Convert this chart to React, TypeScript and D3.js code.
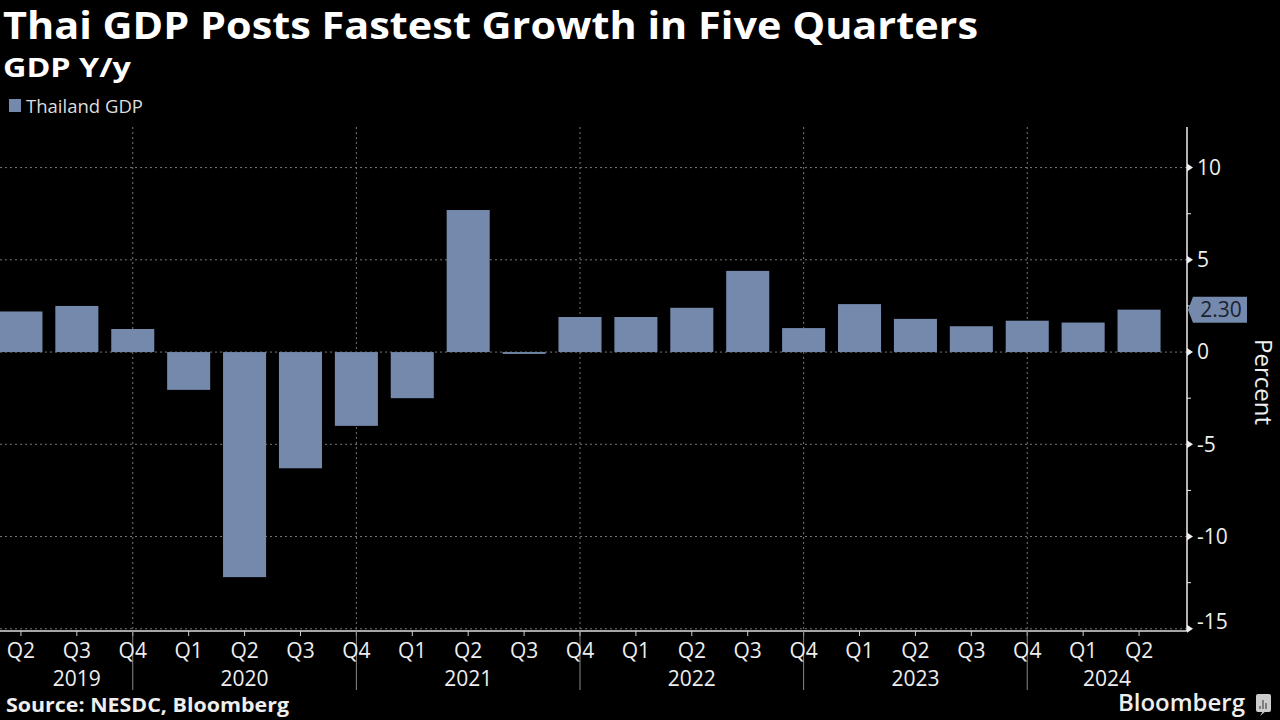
import React from "react";
import * as d3 from "d3";

const periods = [
  "2019Q2", "2019Q3", "2019Q4",
  "2020Q1", "2020Q2", "2020Q3", "2020Q4",
  "2021Q1", "2021Q2", "2021Q3", "2021Q4",
  "2022Q1", "2022Q2", "2022Q3", "2022Q4",
  "2023Q1", "2023Q2", "2023Q3", "2023Q4",
  "2024Q1", "2024Q2",
];
const gdp = [
  2.2, 2.5, 1.25,
  -2.05, -12.2, -6.3, -4.0,
  -2.5, 7.7, -0.1, 1.9,
  1.9, 2.4, 4.4, 1.3,
  2.6, 1.8, 1.4, 1.7,
  1.6, 2.3,
];
const yTicks = [10, 5, 0, -5, -10, -15];
const yMinorTicks = [7.5, 2.5, -2.5, -7.5, -12.5];
const lastLabel = "2.30";

const TITLE = "Thai GDP Posts Fastest Growth in Five Quarters";
const SUBTITLE = "GDP Y/y";
const LEGEND = "Thailand GDP";
const SOURCE = "Source: NESDC, Bloomberg";
const Y_TITLE = "Percent";

const W = 1280;
const H = 720;
const BAR = "#7489ab";
const FONT = "'Open Sans', 'Noto Sans', sans-serif";

export default function App() {
  const plotLeft = 0;
  const axisX = 1187;
  const top = 127;
  const bottom = 631;

  const x = d3.scaleBand<string>().domain(periods).range([-7, 1167]).paddingInner(0).paddingOuter(0);
  const step = x.step();
  const barW = step * 0.77;
  const cx = (p: string) => (x(p) as number) + step / 2;

  const y = d3.scaleLinear().domain([-15.12, 12.2]).range([bottom, top]);

  const q = (p: string) => p.slice(4);
  const yr = (p: string) => p.slice(0, 4);

  const seps = periods.filter((p) => q(p) === "Q4").map(cx);
  const years = Array.from(new Set(periods.map(yr)));
  const yearSpans = years.map((yy) => {
    const ps = periods.filter((p) => yr(p) === yy);
    const first = cx(ps[0]);
    const prevSep = seps.filter((s) => s < first + 1).pop();
    const start = q(ps[0]) === "Q1" && prevSep !== undefined ? prevSep : first;
    const lastP = ps[ps.length - 1];
    const end = q(lastP) === "Q4" ? cx(lastP) : axisX;
    return { yy, mid: (start + end) / 2 };
  });

  const lastV = gdp[gdp.length - 1];
  const ly = y(lastV);
  const tagX0 = axisX + 1;
  const tagPath = `M${tagX0},${ly} L${tagX0 + 5},${ly - 13} L${1247},${ly - 13} L${1247},${ly + 13} L${tagX0 + 5},${ly + 13} Z`;

  return (
    <div>
      <style>{`body{margin:0;background:#000}`}</style>
      <svg width={W} height={H} style={{ display: "block", background: "#000" }}>
        <rect x={0} y={0} width={W} height={H} fill="#000" />
        <text x={3} y={39} fill="#fff" fontFamily={FONT} fontWeight={700} fontSize={37} textLength={975} lengthAdjust="spacingAndGlyphs">
          {TITLE}
        </text>
        <text x={3} y={77} fill="#fff" fontFamily={FONT} fontWeight={700} fontSize={26} textLength={128} lengthAdjust="spacingAndGlyphs">
          {SUBTITLE}
        </text>
        <rect x={9} y={99} width={12} height={13} fill={BAR} />
        <text x={26} y={113} fill="#ddd" fontFamily={FONT} fontSize={19} textLength={117} lengthAdjust="spacingAndGlyphs">
          {LEGEND}
        </text>

        {yTicks.map((t) => (
          <line key={"g" + t} x1={plotLeft} x2={axisX} y1={y(t)} y2={y(t)} stroke="#777" strokeWidth={1} strokeDasharray="2,3" />
        ))}
        {seps.map((s, i) => (
          <line key={"v" + i} x1={s} x2={s} y1={top} y2={bottom} stroke="#777" strokeWidth={1} strokeDasharray="2,3" />
        ))}

        {periods.map((p, i) => {
          const v = gdp[i];
          const y0 = y(0);
          const y1 = y(v);
          return (
            <rect
              key={p}
              x={cx(p) - barW / 2}
              y={Math.min(y0, y1)}
              width={barW}
              height={Math.max(1.5, Math.abs(y1 - y0))}
              fill={BAR}
            />
          );
        })}

        <line x1={plotLeft} x2={axisX} y1={bottom} y2={bottom} stroke="#ddd" strokeWidth={1.5} />
        {periods.map((p) => (
          <line key={"t" + p} x1={cx(p)} x2={cx(p)} y1={bottom} y2={bottom + 5} stroke="#ccc" strokeWidth={1} />
        ))}
        {seps.map((s, i) => (
          <line key={"s" + i} x1={s} x2={s} y1={bottom} y2={690} stroke="#888" strokeWidth={1} />
        ))}
        {periods.map((p) => (
          <text key={"q" + p} x={cx(p)} y={658} fill="#eee" fontFamily={FONT} fontSize={21} textAnchor="middle">
            {q(p)}
          </text>
        ))}
        {yearSpans.map((s) => (
          <text key={"y" + s.yy} x={s.mid} y={686} fill="#eee" fontFamily={FONT} fontSize={21} textAnchor="middle">
            {s.yy}
          </text>
        ))}

        <line x1={axisX} x2={axisX} y1={top} y2={bottom} stroke="#eee" strokeWidth={1.5} />
        {yTicks.map((t) => {
          const ty = Math.min(y(t), bottom - 9);
          return (
            <g key={"r" + t}>
              <path d={`M${axisX},${y(t) - 4} L${axisX + 6},${y(t)} L${axisX},${y(t) + 4} Z`} fill="#eee" />
              <text x={axisX + 10} y={ty} dy="0.35em" fill="#eee" fontFamily={FONT} fontSize={21}>
                {t < 0 ? "-" + Math.abs(t) : String(t)}
              </text>
            </g>
          );
        })}
        {yMinorTicks.map((t) => (
          <line key={"m" + t} x1={axisX} x2={axisX + 4} y1={y(t)} y2={y(t)} stroke="#eee" strokeWidth={1} />
        ))}
        <text
          transform={`translate(1255,382) rotate(90)`}
          textAnchor="middle"
          fill="#eee"
          fontFamily={FONT}
          fontSize={24}
        >
          {Y_TITLE}
        </text>

        <path d={tagPath} fill={BAR} />
        <text x={1221} y={ly} dy="0.35em" textAnchor="middle" fill="#1a2233" fontFamily={FONT} fontSize={21}>
          {lastLabel}
        </text>

        <text x={6} y={712} fill="#eee" fontFamily={FONT} fontWeight={700} fontSize={20} textLength={283} lengthAdjust="spacingAndGlyphs">
          {SOURCE}
        </text>
        <text x={1118} y={711} fill="#eee" fontFamily={FONT} fontWeight={600} fontSize={24} textLength={127} lengthAdjust="spacingAndGlyphs">
          Bloomberg
        </text>
        <rect x={1256} y={694} width={15} height={18} rx={2} fill="#ccc" />
        <path d="M1260,716 L1263,711 L1266,711 Z" fill="#ccc" />
        <line x1={1260} x2={1260} y1={706} y2={709} stroke="#333" strokeWidth={1} />
        <line x1={1263} x2={1263} y1={700} y2={709} stroke="#333" strokeWidth={1} />
        <line x1={1266} x2={1266} y1={703} y2={709} stroke="#333" strokeWidth={1} />
      </svg>
    </div>
  );
}
